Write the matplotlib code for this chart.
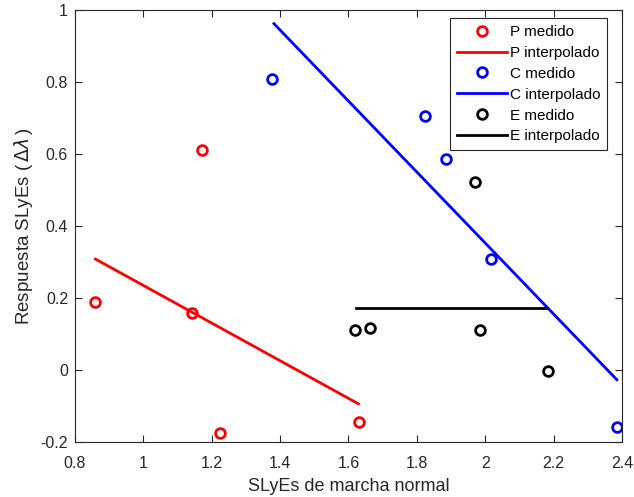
import numpy as np
import matplotlib
matplotlib.use("Agg")
import matplotlib.pyplot as plt

plt.rcParams["font.family"] = ["Liberation Sans", "DejaVu Sans"]
plt.rcParams["mathtext.fontset"] = "dejavusans"

# measured points
p_x = [0.859, 1.142, 1.172, 1.224, 1.630]
p_y = [0.189, 0.158, 0.612, -0.175, -0.144]
c_x = [1.377, 1.824, 1.884, 2.017, 2.386]
c_y = [0.809, 0.706, 0.586, 0.308, -0.157]
e_x = [1.618, 1.663, 1.970, 1.985, 2.183]
e_y = [0.110, 0.116, 0.521, 0.112, -0.004]

# interpolated lines (end points)
p_fit_x = [0.860, 1.629]
p_fit_y = [0.308, -0.094]
c_fit_x = [1.382, 2.385]
c_fit_y = [0.962, -0.027]
e_fit_x = [1.621, 2.182]
e_fit_y = [0.171, 0.171]

xticks = [0.8, 1, 1.2, 1.4, 1.6, 1.8, 2, 2.2, 2.4]
xticklabels = ["0.8", "1", "1.2", "1.4", "1.6", "1.8", "2", "2.2", "2.4"]
yticks = [-0.2, 0, 0.2, 0.4, 0.6, 0.8, 1]
yticklabels = ["-0.2", "0", "0.2", "0.4", "0.6", "0.8", "1"]

fig = plt.figure(figsize=(6.34, 4.97), dpi=100)
ax = fig.add_axes([0.1183, 0.1107, 0.8627, 0.8692])

mk = dict(marker="o", linestyle="none", markersize=7, markeredgewidth=2, markerfacecolor="none")
ax.plot(p_x, p_y, color="red", label="P medido", **mk)
ax.plot(p_fit_x, p_fit_y, color="red", linewidth=2, label="P interpolado")
ax.plot(c_x, c_y, color="blue", label="C medido", **mk)
ax.plot(c_fit_x, c_fit_y, color="blue", linewidth=2, label="C interpolado")
ax.plot(e_x, e_y, color="black", label="E medido", **mk)
ax.plot(e_fit_x, e_fit_y, color="black", linewidth=2, label="E interpolado")

ax.set_xlim(0.8, 2.4)
ax.set_ylim(-0.2, 1)
ax.set_xticks(xticks)
ax.set_xticklabels(xticklabels)
ax.set_yticks(yticks)
ax.set_yticklabels(yticklabels)
ax.tick_params(direction="in", top=True, right=True, length=5, width=0.8,
               colors="#262626", labelsize=11.5, labelcolor="#262626")
ax.tick_params(axis="x", pad=10)
ax.tick_params(axis="y", pad=5)
for s in ax.spines.values():
    s.set_color("#262626")
    s.set_linewidth(0.8)

ax.set_xlabel("SLyEs de marcha normal", fontsize=13, color="#262626", labelpad=5)
ax.set_ylabel(r"Respuesta SLyEs ($\,\Delta\lambda\,$)", fontsize=13.5,
              color="#262626", labelpad=4)

leg = ax.legend(loc="upper right", bbox_to_anchor=(0.9726, 0.981), fontsize=11,
                fancybox=False, framealpha=1, edgecolor="#262626",
                handlelength=3.3, handletextpad=0.15, labelspacing=0.45,
                borderpad=0.45, borderaxespad=0)
leg.get_frame().set_linewidth(0.8)

fig.savefig("out.png", dpi=100)
